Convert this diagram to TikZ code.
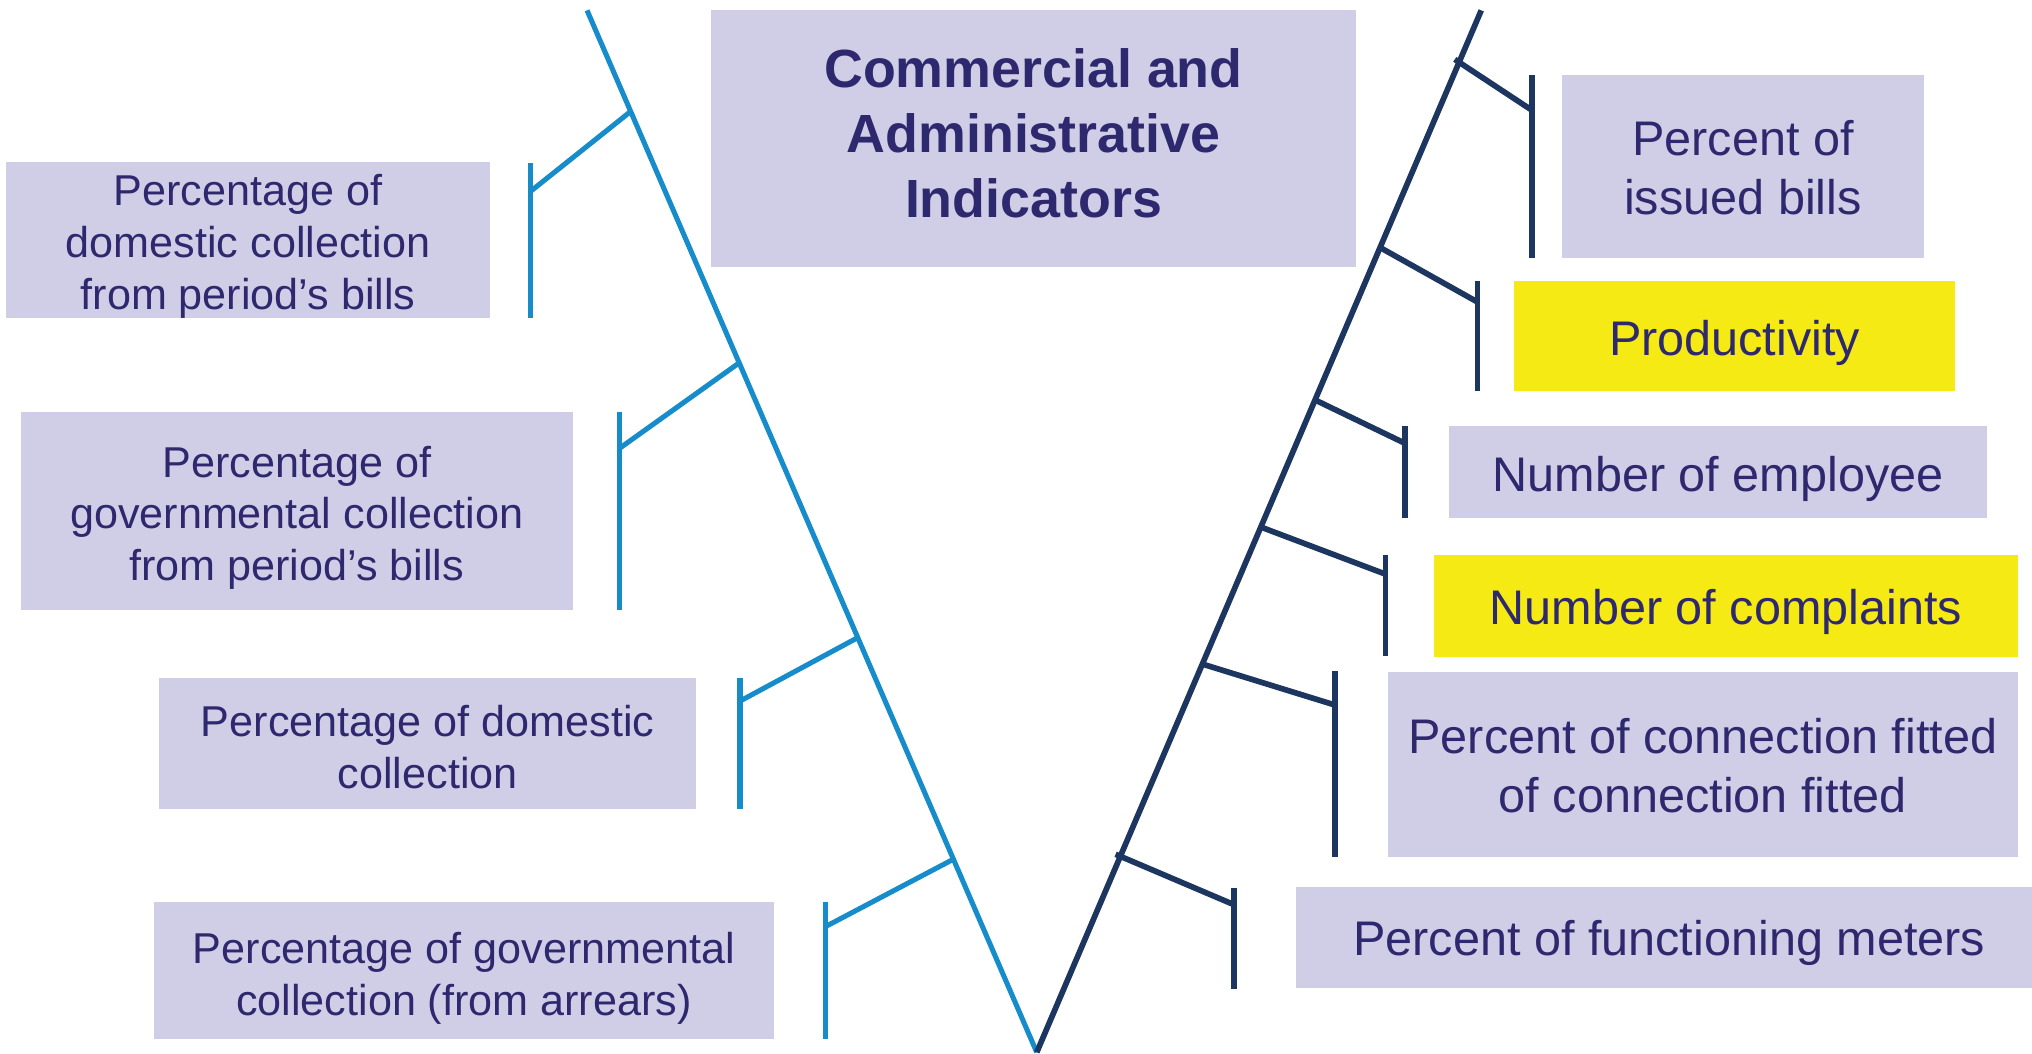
\documentclass[tikz,border=0pt]{standalone}
\usepackage{fontspec}
\setmainfont{Liberation Sans}
\usetikzlibrary{calc}
\definecolor{boxfill}{RGB}{208,206,230}
\definecolor{hiyellow}{RGB}{245,234,20}
\definecolor{txt}{RGB}{46,41,110}
\definecolor{lblue}{RGB}{22,140,202}
\definecolor{rnavy}{RGB}{28,54,96}
\tikzset{
  box/.style={rectangle, fill=boxfill, inner sep=0pt},
  hibox/.style={box, fill=hiyellow},
  lbl/.style={inner sep=0pt, align=center, text=txt},
  ltext/.style={lbl, font=\fontsize{33.3}{40}\selectfont},
  rtext/.style={lbl, font=\fontsize{37.5}{46}\selectfont},
  ttext/.style={lbl, font=\fontsize{41.5}{50}\selectfont\bfseries},
  lline/.style={draw=lblue, line width=3.9pt},
  rline/.style={draw=rnavy, line width=4.4pt},
}
\begin{document}
\begin{tikzpicture}[x=1pt,y=-1pt]
\useasboundingbox (0,0) rectangle (1568,813);
% title
\node[box, minimum width=497, minimum height=198] (title) at (797.5,107) {};
\node[ttext] (titlet) at ($(title.center)+(0,-4)$) {Commercial and\\Administrative\\Indicators};
% left boxes
\node[box, minimum width=373, minimum height=120] (L1) at (191.5,185) {};
\node[ltext] (L1t) at ($(L1.center)+(0,5)$) {Percentage of\\domestic collection\\from period’s bills};
\node[box, minimum width=426, minimum height=153] (L2) at (229,394.5) {};
\node[ltext] (L2t) at ($(L2.center)+(0,5)$) {Percentage of\\governmental collection\\from period’s bills};
\node[box, minimum width=414, minimum height=101] (L3) at (330,573.5) {};
\node[ltext] (L3t) at ($(L3.center)+(0,3)$) {Percentage of domestic\\collection};
\node[box, minimum width=478, minimum height=106] (L4) at (358,749) {};
\node[ltext] (L4t) at ($(L4.center)+(0,6)$) {Percentage of governmental\\collection (from arrears)};
% right boxes
\node[box, minimum width=280, minimum height=141] (R1) at (1345,128.5) {};
\node[rtext] (R1t) at ($(R1.center)+(0,1)$) {Percent of\\issued bills};
\node[hibox, minimum width=340, minimum height=85] (R2) at (1338.5,259.5) {};
\node[rtext] (R2t) at ($(R2.center)+(0,5)$) {Productivity};
\node[box, minimum width=415.5, minimum height=71] (R3) at (1325.75,364.5) {};
\node[rtext] (R3t) at ($(R3.center)+(0,5)$) {Number of employee};
\node[hibox, minimum width=450.5, minimum height=78.7] (R4) at (1331.75,467.35) {};
\node[rtext] (R4t) at ($(R4.center)+(0,5)$) {Number of complaints};
\node[box, minimum width=568, minimum height=78] (R6) at (1284,723.75) {};
\node[rtext] (R6t) at ($(R6.center)+(4,4)$) {Percent of functioning meters};
\node[box, minimum width=486, minimum height=142.4] (R5) at (1314,589.8) {};
\node[rtext] (R5t) at ($(R5.center)+(0,1)$) {Percent of connection fitted\\of connection fitted};
% trunk
\coordinate (tl) at (453,8);
\coordinate (v) at (800,812);
\coordinate (tr) at (1143,8);
\draw[lline] (tl) -- (v);
% left brackets
\foreach \n/\f/\x/\ya/\yb/\yc in {1/0.0970/409/126/245/148, 2/0.3383/478/318/471/346, 3/0.6020/571/523/624/541, 4/0.8147/637/696/802/715}{
  \coordinate (lj\n) at ($(tl)!\f!(v)$);
  \coordinate (lt\n) at (\x,\ya);
  \coordinate (lb\n) at (\x,\yb);
  \coordinate (la\n) at (\x,\yc);
  \draw[lline] (lt\n) -- (lb\n);
  \draw[lline] (la\n) -- (lj\n);
}
\draw[rline] (tr) -- (v);
% right brackets
\foreach \n/\f/\x/\ya/\yb/\yc/\o in {1/0.0498/1182/58/199/85/4, 2/0.2276/1140/217/302/233/0, 3/0.3739/1084/329/400/342/0, 4/0.4959/1069/428/506/443/0, 5/0.6274/1030/518/661/544/0, 6/0.8119/952/685/763/698/4}{
  \coordinate (rj\n) at ($(tr)!\f!(v)$);
  \coordinate (rt\n) at (\x,\ya);
  \coordinate (rb\n) at (\x,\yb);
  \coordinate (ra\n) at (\x,\yc);
  \draw[rline] (rt\n) -- (rb\n);
  \draw[rline] ($(rj\n)!-\o pt!(ra\n)$) -- (ra\n);
}
\end{tikzpicture}
\end{document}
